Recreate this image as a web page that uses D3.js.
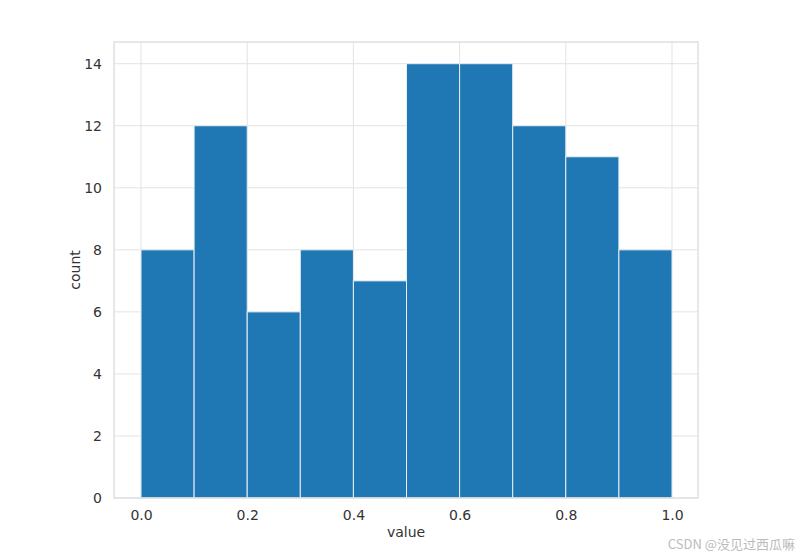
<!DOCTYPE html>
<html>
<head>
<meta charset="utf-8">
<script src="https://cdn.jsdelivr.net/npm/d3@7"></script>
<style>
  body { margin: 0; background: #fff; }
  text { font-family: "DejaVu Sans", sans-serif; fill: #333; }
</style>
</head>
<body>
<div id="chart"></div>
<script>
// histogram bins (edges) and counts
const binStarts = [0.0, 0.1, 0.2, 0.3, 0.4, 0.5, 0.6, 0.7, 0.8, 0.9];
const binWidth = 0.1;
const counts = [8, 12, 6, 8, 7, 14, 14, 12, 11, 8];
const xTicks = [0.0, 0.2, 0.4, 0.6, 0.8, 1.0];
const yTicks = [0, 2, 4, 6, 8, 10, 12, 14];

const width = 805, height = 559;
const margin = { top: 42, right: 107, bottom: 61, left: 114 };
const innerWidth = width - margin.left - margin.right;
const innerHeight = height - margin.top - margin.bottom;

const svg = d3.select("#chart").append("svg")
  .attr("width", width).attr("height", height);

const g = svg.append("g")
  .attr("transform", `translate(${margin.left},${margin.top})`);

// x: 0.0 at 141px, 1.0 at 672px in page coords
const xScale = d3.scaleLinear()
  .domain([-0.05, 1.05])
  .range([141 - 531 * 0.05 - margin.left, 672 + 531 * 0.05 - margin.left]);
const yScale = d3.scaleLinear()
  .domain([0, 14.7])
  .range([innerHeight, 0]);

// grid
g.selectAll(".gx").data(xTicks).enter().append("line")
  .attr("x1", d => xScale(d)).attr("x2", d => xScale(d))
  .attr("y1", 0).attr("y2", innerHeight)
  .attr("stroke", "#e3e3e3").attr("stroke-width", 1);
g.selectAll(".gy").data(yTicks).enter().append("line")
  .attr("x1", 0).attr("x2", innerWidth)
  .attr("y1", d => yScale(d)).attr("y2", d => yScale(d))
  .attr("stroke", "#e3e3e3").attr("stroke-width", 1);

// bars
g.selectAll("rect.bar").data(counts).enter().append("rect")
  .attr("class", "bar")
  .attr("x", (d, i) => xScale(binStarts[i]))
  .attr("width", (d, i) => xScale(binStarts[i] + binWidth) - xScale(binStarts[i]))
  .attr("y", d => yScale(d))
  .attr("height", d => innerHeight - yScale(d))
  .attr("fill", "#1f77b4")
  .attr("stroke", "#e8eef5").attr("stroke-width", 1);

// frame
g.append("rect").attr("width", innerWidth).attr("height", innerHeight)
  .attr("fill", "none").attr("stroke", "#e0e0e0").attr("stroke-width", 1.5);

// axes
const xAxis = g.append("g").attr("transform", `translate(0,${innerHeight})`)
  .call(d3.axisBottom(xScale).tickValues(xTicks).tickFormat(d3.format(".1f")).tickSize(0).tickPadding(12));
const yAxis = g.append("g")
  .call(d3.axisLeft(yScale).tickValues(yTicks).tickSize(0).tickPadding(12));
[xAxis, yAxis].forEach(a => {
  a.select(".domain").remove();
  a.selectAll("text").style("font-size", "14px").style("font-family", "DejaVu Sans").attr("fill", "#333");
});

// labels
svg.append("text")
  .attr("x", 406).attr("y", 537)
  .style("text-anchor", "middle").style("font-size", "14px")
  .text("value");
svg.append("text")
  .attr("transform", "rotate(-90)")
  .attr("x", -270).attr("y", 80)
  .style("text-anchor", "middle").style("font-size", "14px")
  .text("count");

// watermark
svg.append("text")
  .attr("x", 795).attr("y", 549)
  .style("text-anchor", "end").style("font-size", "13px")
  .style("font-family", "Noto Sans CJK SC, sans-serif")
  .attr("fill", "#bbb").style("fill", "#bbb")
  .text("CSDN @没见过西瓜嘛");
</script>
</body>
</html>
